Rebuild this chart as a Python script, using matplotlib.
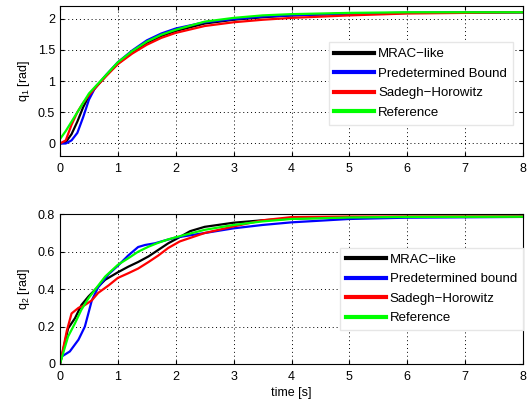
import matplotlib
matplotlib.use("Agg")
import matplotlib.pyplot as plt

plt.rcParams['font.family'] = ['Liberation Sans', 'DejaVu Sans']
plt.rcParams['mathtext.fontset'] = 'custom'
plt.rcParams['mathtext.rm'] = 'Liberation Sans'

# ---- q1 data ----
t1_mrac = [0, 0.1, 0.2, 0.3, 0.4, 0.5, 0.6, 0.8, 1.0, 1.25, 1.5, 1.75, 2.0, 2.5, 3.0, 3.5, 4.0, 5.0, 6.0, 8.0]
q1_mrac = [0, 0.02, 0.15, 0.35, 0.58, 0.76, 0.88, 1.09, 1.28, 1.46, 1.61, 1.72, 1.80, 1.92, 1.98, 2.02, 2.05, 2.08, 2.09, 2.10]
t1_pb = [0, 0.1, 0.2, 0.3, 0.4, 0.5, 0.6, 0.8, 1.0, 1.25, 1.5, 1.75, 2.0, 2.5, 3.0, 3.5, 4.0, 5.0, 6.0, 8.0]
q1_pb = [0, 0.0, 0.05, 0.17, 0.42, 0.70, 0.88, 1.10, 1.30, 1.49, 1.65, 1.76, 1.84, 1.94, 1.99, 2.03, 2.05, 2.08, 2.09, 2.10]
t1_sh = [0, 0.1, 0.2, 0.3, 0.4, 0.5, 0.6, 0.8, 1.0, 1.25, 1.5, 1.75, 2.0, 2.5, 3.0, 3.5, 4.0, 5.0, 6.0, 8.0]
q1_sh = [0, 0.05, 0.30, 0.50, 0.65, 0.77, 0.88, 1.08, 1.27, 1.44, 1.58, 1.69, 1.77, 1.88, 1.94, 1.98, 2.01, 2.05, 2.08, 2.10]
t1_ref = [0, 0.1, 0.2, 0.3, 0.4, 0.5, 0.6, 0.8, 1.0, 1.25, 1.5, 1.75, 2.0, 2.5, 3.0, 3.5, 4.0, 5.0, 6.0, 8.0]
q1_ref = [0.07, 0.2, 0.35, 0.5, 0.65, 0.8, 0.9, 1.1, 1.3, 1.48, 1.63, 1.74, 1.82, 1.95, 2.01, 2.05, 2.07, 2.09, 2.10, 2.10]

# ---- q2 data ----
t2_mrac = [0, 0.14, 0.26, 0.37, 0.49, 0.6, 0.78, 1.0, 1.18, 1.35, 1.53, 1.7, 1.87, 2.05, 2.25, 2.5, 3.0, 3.5, 4.0, 5.0, 6.0, 8.0]
q2_mrac = [0, 0.19, 0.245, 0.315, 0.36, 0.395, 0.45, 0.49, 0.52, 0.545, 0.575, 0.61, 0.645, 0.675, 0.71, 0.733, 0.755, 0.768, 0.777, 0.784, 0.786, 0.787]
t2_pb = [0, 0.03, 0.17, 0.32, 0.43, 0.55, 0.66, 0.84, 1.0, 1.18, 1.35, 1.47, 1.64, 1.81, 1.99, 2.5, 3.0, 3.5, 4.0, 5.0, 6.0, 8.0]
q2_pb = [0, 0.04, 0.067, 0.13, 0.2, 0.34, 0.41, 0.48, 0.525, 0.58, 0.625, 0.636, 0.645, 0.66, 0.675, 0.70, 0.725, 0.743, 0.757, 0.775, 0.782, 0.786]
t2_sh = [0, 0.12, 0.2, 0.32, 0.43, 0.55, 0.66, 0.84, 1.0, 1.18, 1.35, 1.53, 1.7, 1.87, 2.07, 2.5, 3.0, 3.5, 4.0, 5.0, 6.0, 8.0]
q2_sh = [0, 0.18, 0.27, 0.30, 0.315, 0.34, 0.38, 0.42, 0.46, 0.485, 0.51, 0.545, 0.58, 0.62, 0.655, 0.70, 0.735, 0.768, 0.785, 0.788, 0.788, 0.788]
t2_ref = [0, 0.14, 0.26, 0.37, 0.49, 0.6, 0.78, 1.0, 1.18, 1.35, 1.53, 1.7, 1.87, 2.07, 2.5, 3.0, 3.5, 4.0, 5.0, 6.0, 8.0]
q2_ref = [0, 0.147, 0.218, 0.29, 0.35, 0.395, 0.467, 0.53, 0.565, 0.60, 0.627, 0.648, 0.666, 0.683, 0.717, 0.743, 0.762, 0.775, 0.783, 0.786, 0.787]

labels_top = ["MRAC\u2212like", "Predetermined Bound", "Sadegh\u2212Horowitz", "Reference"]
labels_bot = ["MRAC\u2212like", "Predetermined bound", "Sadegh\u2212Horowitz", "Reference"]
colors = ["#000000", "#0000ff", "#ff0000", "#00ff00"]

fig = plt.figure(figsize=(5.28, 4.01), dpi=100)
ax1 = fig.add_axes([0.1136, 0.611, 0.877, 0.374])
ax2 = fig.add_axes([0.1136, 0.0923, 0.877, 0.3733])

series_top = [(t1_mrac, q1_mrac), (t1_pb, q1_pb), (t1_sh, q1_sh), (t1_ref, q1_ref)]
series_bot = [(t2_mrac, q2_mrac), (t2_pb, q2_pb), (t2_sh, q2_sh), (t2_ref, q2_ref)]

for ax, series, labels in [(ax1, series_top, labels_top), (ax2, series_bot, labels_bot)]:
    for (t, q), c, lab in zip(series, colors, labels):
        ax.plot(t, q, color=c, lw=1.6, label=lab)
    ax.set_xlim(0, 8)
    ax.grid(True, color='black', linestyle=(0, (1, 3)), linewidth=0.7)
    ax.tick_params(direction='in', labelsize=9, length=3, top=True, right=True)
    ax.tick_params(axis='x', pad=5)
    for s in ax.spines.values():
        s.set_linewidth(0.8)

ax1.set_ylim(-0.2, 2.2)
ax1.set_yticks([0, 0.5, 1, 1.5, 2])
ax1.set_yticklabels(['0', '0.5', '1', '1.5', '2'])
ax1.set_xticks(range(0, 9))
ax1.set_ylabel(r'q$_\mathregular{1}$ [rad]', fontsize=9)

ax2.set_ylim(0, 0.8)
ax2.set_yticks([0, 0.2, 0.4, 0.6, 0.8])
ax2.set_yticklabels(['0', '0.2', '0.4', '0.6', '0.8'])
ax2.set_xticks(range(0, 9))
ax2.set_ylabel(r'q$_\mathregular{2}$ [rad]', fontsize=9)
ax2.set_xlabel('time [s]', fontsize=9, labelpad=3)

for ax, anchor in [(ax1, (0.978, 0.76)), (ax2, (1.0, 0.777))]:
    leg = ax.legend(loc='upper right', bbox_to_anchor=anchor, borderaxespad=0,
                    fontsize=9.5, handlelength=3.0, handletextpad=0.3,
                    labelspacing=0.55, fancybox=False, framealpha=1,
                    edgecolor='#e6e6e6', borderpad=0.45)
    for h in leg.get_lines():
        h.set_linewidth(3)

fig.savefig('out.png', dpi=100)
